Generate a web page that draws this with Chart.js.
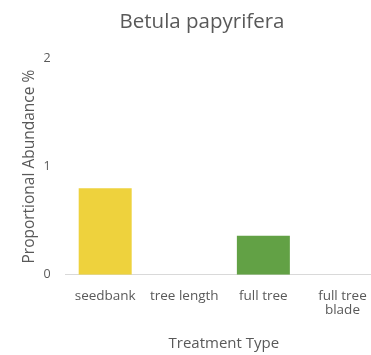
<!DOCTYPE html>
<html>
<head>
<meta charset="utf-8">
<script src="https://cdn.jsdelivr.net/npm/chart.js@4/dist/chart.umd.min.js"></script>
<style>
  html, body { margin: 0; padding: 0; background: #fff; overflow: hidden; }
  #wrap { width: 435px; height: 355px; }
</style>
</head>
<body>
<div id="wrap"><canvas id="c" width="435" height="355"></canvas></div>
<script>
const categories = ['seedbank', 'tree length', 'full tree', ['full tree', 'blade']];
const abundance = [0.8, 0, 0.36, 0];
const barColors = ['#EED23D', '#EED23D', '#62A145', '#62A145'];
const yTicks = [0, 1, 2];

const grey = '#595959';
const font = '"Open Sans", Lato, sans-serif';

new Chart(document.getElementById('c'), {
  type: 'bar',
  data: {
    labels: categories,
    datasets: [{
      data: abundance,
      backgroundColor: barColors,
      borderWidth: 0,
      categoryPercentage: 1,
      barPercentage: 0.67
    }]
  },
  options: {
    responsive: false,
    animation: false,
    layout: { padding: { left: 22, right: 53, top: 6, bottom: 2 } },
    plugins: {
      legend: { display: false },
      tooltip: { enabled: false },
      title: {
        display: true,
        text: 'Betula papyrifera',
        color: grey,
        font: { family: font, size: 20.5, weight: 'normal' },
        padding: { top: 4, bottom: 24 }
      }
    },
    scales: {
      x: {
        grid: { display: false, drawTicks: false },
        border: { color: '#D9D9D9', width: 1 },
        ticks: {
          color: grey,
          font: { family: font, size: 13.5, lineHeight: 1.05 },
          padding: 14,
          maxRotation: 0,
          autoSkip: false
        },
        title: {
          display: true,
          text: 'Treatment Type',
          color: grey,
          font: { family: font, size: 15 },
          padding: { top: 4, bottom: 0 }
        }
      },
      y: {
        min: yTicks[0],
        max: yTicks[yTicks.length - 1],
        afterBuildTicks: (axis) => { axis.ticks = yTicks.map(v => ({ value: v })); },
        grid: { display: false, drawTicks: false },
        border: { display: false },
        ticks: {
          color: grey,
          font: { family: font, size: 12.5 },
          padding: 15
        },
        title: {
          display: true,
          text: 'Proportional Abundance %',
          color: grey,
          font: { family: font, size: 15.5, lineHeight: 1 },
          padding: { top: 0, bottom: -9 }
        }
      }
    }
  }
});
</script>
</body>
</html>
